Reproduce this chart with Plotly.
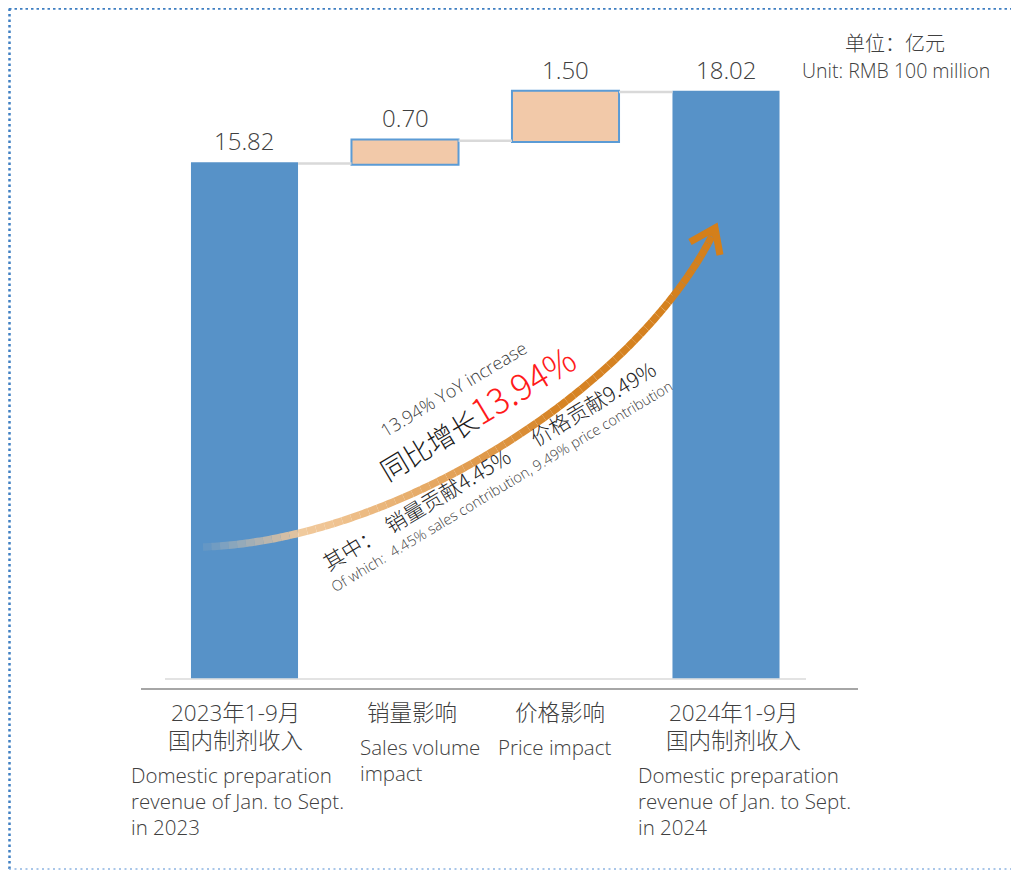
import plotly.graph_objects as go
import numpy as np

# ---------------- data ----------------
values = [15.82, 0.70, 1.50, 18.02]
measures = ["absolute", "relative", "relative", "total"]
value_labels = ["15.82", "0.70", "1.50", "18.02"]
cat_cn = [["2023年1-9月", "国内制剂收入"], ["销量影响"], ["价格影响"], ["2024年1-9月", "国内制剂收入"]]
cat_en = [["Domestic preparation", "revenue of Jan. to Sept.", "in 2023"],
          ["Sales volume", "impact"],
          ["Price impact"],
          ["Domestic preparation", "revenue of Jan. to Sept.", "in 2024"]]
unit_cn = "单位：亿元"
unit_en = "Unit: RMB 100 million"
txt_yoy_en = "13.94% YoY increase"
txt_yoy_cn = "同比增长"
txt_yoy_pct = "13.94%"
txt_split_cn = "其中：\u00a0\u00a0销量贡献4.45%\u00a0\u00a0\u00a0\u00a0\u00a0\u00a0价格贡献9.49%"
txt_split_en = "Of which:\u00a0\u00a04.45% sales contribution, 9.49% price contribution"

OFF = 8  # page body margin
W, H = 1019 - OFF, 871 - OFF
BLUE = "#5792C8"
PEACH = "#F2C9A9"
OUTLINE = "#5B9BD5"
TXT = "#404040"
LATIN = "Open Sans, Noto Sans CJK SC, sans-serif"
CJK = "Noto Sans CJK SC, Open Sans, sans-serif"

def px(x):
    return (x - OFF) / W

def py(y):
    return 1 - (y - OFF) / H

x = list(range(len(values)))
tops = list(np.cumsum(values[:3])) + [values[0] + values[1] + values[2]]

fig = go.Figure()
fig.add_trace(go.Waterfall(
    x=x, y=[values[0], values[1], values[2], 0], measure=measures,
    width=0.667,
    totals=dict(marker=dict(color=BLUE, line=dict(color=BLUE, width=0))),
    increasing=dict(marker=dict(color=PEACH, line=dict(color=OUTLINE, width=2))),
    decreasing=dict(marker=dict(color=PEACH, line=dict(color=OUTLINE, width=2))),
    connector=dict(line=dict(color="#D9D9D9", width=2.5), mode="between"),
    hoverinfo="skip", showlegend=False,
))

ann = []
# value labels
for i, (t, lab) in enumerate(zip(tops, value_labels)):
    ann.append(dict(x=i, y=t, xref="x", yref="y", text=lab, showarrow=False,
                    xanchor="center", yanchor="middle", yshift=23,
                    font=dict(family=LATIN, size=24, color=TXT, weight=300)))

# category labels
cn_off = [-9.5, 6.5, -5.5, 7]
en_off = [-115.5, -47, -69.5, -90]
for i in range(len(values)):
    for k, line in enumerate(cat_cn[i]):
        ann.append(dict(x=i, xref="x", y=py(712 + 28 * k), yref="paper", text=line,
                        showarrow=False, xanchor="center", yanchor="middle", xshift=cn_off[i],
                        font=dict(family=LATIN, size=22.5, color=TXT, weight=300)))
    y0 = 775 if len(cat_cn[i]) == 2 else 747
    for k, line in enumerate(cat_en[i]):
        ann.append(dict(x=i, xref="x", y=py(y0 + 26 * k), yref="paper", text=line,
                        showarrow=False, xanchor="left", yanchor="middle", xshift=en_off[i],
                        font=dict(family=LATIN, size=20.5, color=TXT, weight=300)))

# units
ann.append(dict(x=px(895), y=py(42), xref="paper", yref="paper", text=unit_cn, showarrow=False,
                xanchor="center", yanchor="middle",
                font=dict(family=CJK, size=20, color=TXT, weight=300)))
ann.append(dict(x=px(896), y=py(71), xref="paper", yref="paper", text=unit_en, showarrow=False,
                xanchor="center", yanchor="middle",
                font=dict(family=LATIN, size=19.5, color=TXT, weight=300)))

# rotated annotation texts
ANG = -31
ann.append(dict(x=px(453), y=py(389), xref="paper", yref="paper", text=txt_yoy_en, showarrow=False,
                xanchor="center", yanchor="middle", textangle=ANG,
                font=dict(family=LATIN, size=18, color="#404040", weight=300)))
ann.append(dict(x=px(475), y=py(411), xref="paper", yref="paper",
                text=txt_yoy_cn + "<span style='color:#FF1A1A;font-size:35px;font-weight:300'>" + txt_yoy_pct + "</span>",
                showarrow=False, xanchor="center", yanchor="middle", textangle=ANG,
                font=dict(family=CJK, size=27, color="#1A1A1A", weight=300)))
ann.append(dict(x=px(489), y=py(465), xref="paper", yref="paper", text=txt_split_cn, showarrow=False,
                xanchor="center", yanchor="middle", textangle=ANG,
                font=dict(family=CJK, size=21, color="#262626", weight=300)))
ann.append(dict(x=px(501), y=py(486), xref="paper", yref="paper", text=txt_split_en, showarrow=False,
                xanchor="center", yanchor="middle", textangle=ANG,
                font=dict(family=LATIN, size=14.5, color="#404040", weight=300)))

shapes = []
# baseline lines
shapes.append(dict(type="line", xref="paper", yref="paper", x0=px(165), x1=px(806), y0=py(679), y1=py(679),
                   line=dict(color="#E3E3E3", width=2), layer="below"))
shapes.append(dict(type="line", xref="paper", yref="paper", x0=px(141), x1=px(858), y0=py(689), y1=py(689),
                   line=dict(color="#A6A6A6", width=2)))
# dotted frame
shapes.append(dict(type="line", xref="paper", yref="paper", x0=px(9), x1=px(1030), y0=py(8.5), y1=py(8.5),
                   line=dict(color="#3F7FC2", width=2.5, dash="2.5px,3px")))
shapes.append(dict(type="line", xref="paper", yref="paper", x0=px(9.5), x1=px(9.5), y0=py(8.5), y1=py(869),
                   line=dict(color="#3F7FC2", width=2.5, dash="2.5px,3px")))
shapes.append(dict(type="line", xref="paper", yref="paper", x0=px(9), x1=px(1030), y0=py(869), y1=py(869),
                   line=dict(color="#8DB4E2", width=1.5, dash="2px,3.5px")))

# gradient curved arrow (decoration)
P = np.array([[203, 547], [400, 540], [640, 385], [715, 230]], dtype=float)
def bez(t):
    return ((1 - t) ** 3)[:, None] * P[0] + (3 * (1 - t) ** 2 * t)[:, None] * P[1] + \
           (3 * (1 - t) * t ** 2)[:, None] * P[2] + (t ** 3)[:, None] * P[3]
stops_t = [0.0, 0.2, 0.42, 0.6, 1.0]
stops_c = np.array([[242, 208, 170], [240, 198, 150], [226, 160, 85], [214, 131, 36], [212, 127, 26]])
N = 70
ts = np.linspace(0, 1, N + 1)
for j in range(N):
    seg = bez(np.linspace(ts[j], ts[j + 1], 4))
    tm = (ts[j] + ts[j + 1]) / 2
    c = [np.interp(tm, stops_t, stops_c[:, k]) for k in range(3)]
    a = min(1.0, 0.05 + tm / 0.17 * 0.95)
    path = "M " + " L ".join(f"{px(p[0]):.5f},{py(p[1]):.5f}" for p in seg)
    shapes.append(dict(type="path", xref="paper", yref="paper", path=path,
                       line=dict(color=f"rgba({c[0]:.0f},{c[1]:.0f},{c[2]:.0f},{a:.3f})", width=7.5)))
head = [(690, 242), (715, 228), (720, 255)]
shapes.append(dict(type="path", xref="paper", yref="paper",
                   path="M " + " L ".join(f"{px(a):.5f},{py(b):.5f}" for a, b in head),
                   line=dict(color="#D47F1A", width=7)))

# axis ranges so that category centres / values land where the reference draws them
c0, step = 244.5 - OFF, 160.5
xr = [-c0 / step, (W - c0) / step]
scale = (677 - 92) / 18.02
base = 677 - OFF
yr = [-(H - base) / scale, base / scale]

fig.update_layout(
    width=W, height=H, autosize=False,
    margin=dict(l=0, r=0, t=0, b=0, pad=0),
    paper_bgcolor="white", plot_bgcolor="white",
    xaxis=dict(range=xr, visible=False, fixedrange=True),
    yaxis=dict(range=yr, visible=False, fixedrange=True),
    annotations=ann, shapes=shapes, showlegend=False,
)
fig.write_html("out.html")
